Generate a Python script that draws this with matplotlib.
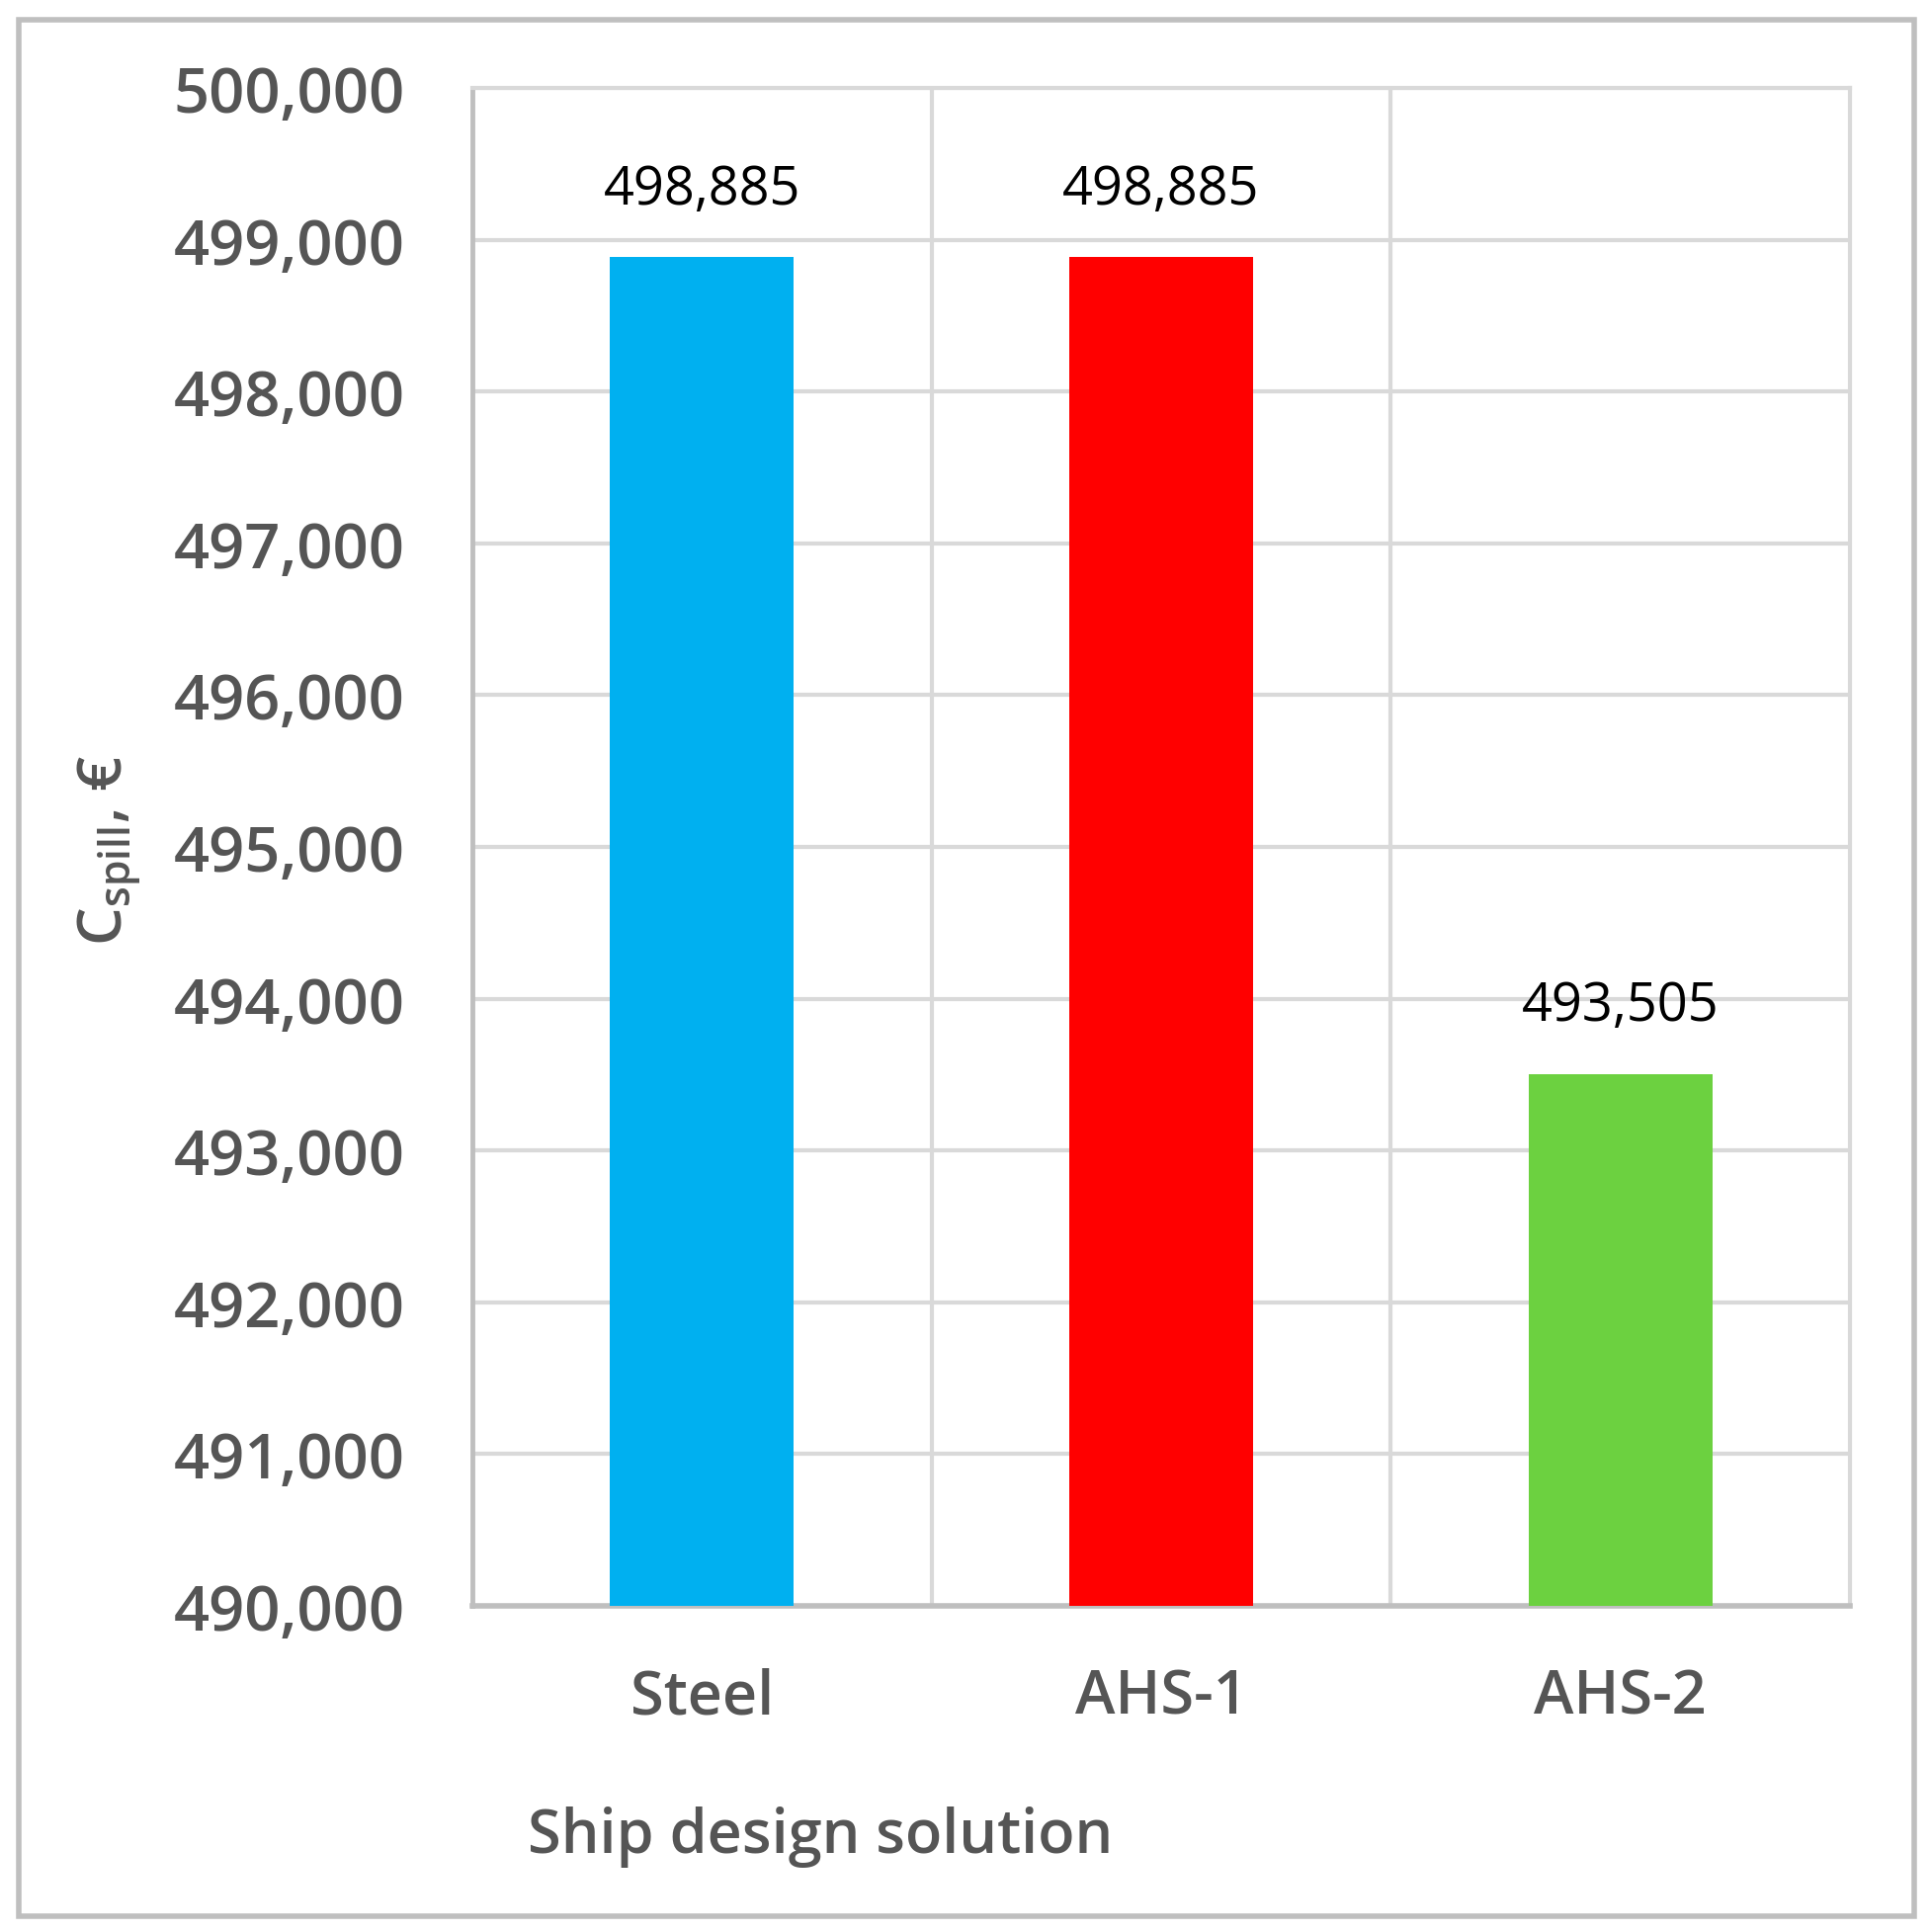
import matplotlib
matplotlib.use("Agg")
import matplotlib.pyplot as plt
from matplotlib.patches import Rectangle
from matplotlib.ticker import FuncFormatter, FixedLocator

# data
designs = ["Steel", "AHS-1", "AHS-2"]
cost_spill = [498885, 498885, 493505]
bar_colors = ["#00B0F0", "#FF0000", "#6CD140"]
y_min, y_max, y_step = 490000, 500000, 1000

plt.rcParams["font.family"] = ["Open Sans", "DejaVu Sans"]
plt.rcParams["mathtext.fontset"] = "custom"
plt.rcParams["mathtext.rm"] = "Open Sans:semibold"
plt.rcParams["mathtext.it"] = "Open Sans:semibold"

text_grey = "#555555"
grid_grey = "#d9d9d9"
label_weight = "semibold"

fig = plt.figure(figsize=(19.54, 19.56), dpi=100)
ax = fig.add_axes([0.2446, 0.1687, 0.7134, 0.7853])

x = range(len(designs))
bars = ax.bar(x, [v - y_min for v in cost_spill], bottom=y_min, width=0.4,
              color=bar_colors, zorder=3)

# value labels above the bars
for xi, v in zip(x, cost_spill):
    ax.annotate(f"{v:,}", (xi, v), xytext=(0, 30), textcoords="offset points",
                ha="center", va="bottom", fontsize=39, color="black")

ax.set_xlim(-0.5, len(designs) - 0.5)
ax.set_ylim(y_min, y_max)
ax.set_yticks(range(y_min, y_max + 1, y_step))
ax.yaxis.set_major_formatter(FuncFormatter(lambda v, _: f"{int(v):,}"))
ax.set_xticks(list(x))
ax.set_xticklabels(designs)
ax.xaxis.set_minor_locator(FixedLocator([0.5, 1.5]))

ax.tick_params(axis="both", which="both", length=0)
ax.tick_params(axis="y", pad=49, labelsize=45.5, labelcolor=text_grey)
ax.tick_params(axis="x", pad=44, labelsize=44, labelcolor=text_grey)
for lab in ax.get_yticklabels() + ax.get_xticklabels():
    lab.set_fontweight(label_weight)

ax.grid(axis="y", which="major", color=grid_grey, linewidth=3, zorder=0)
ax.grid(axis="x", which="minor", color=grid_grey, linewidth=3, zorder=0)
for name, sp in ax.spines.items():
    sp.set_color(grid_grey)
    sp.set_linewidth(3)
ax.spines["bottom"].set_color("#bfbfbf")
ax.spines["bottom"].set_linewidth(4)
ax.spines["left"].set_color("#bfbfbf")
ax.spines["left"].set_linewidth(3.5)

fig.text(111 / 1954, 1 - 861 / 1956, "C$_{\\mathrm{spill}}$, €", rotation=90,
         ha="center", va="center", fontsize=44, color=text_grey, fontweight=label_weight)
fig.text(830 / 1954, 1 - 1859 / 1956, "Ship design solution", ha="center",
         va="center", fontsize=44, color=text_grey, fontweight=label_weight)

# outer frame round the whole figure
fig.patches.append(Rectangle((19 / 1954, 1 - 1940 / 1956), (1937 - 19) / 1954,
                             (1940 - 21) / 1956, transform=fig.transFigure,
                             fill=False, edgecolor="#bfbfbf", linewidth=4))

fig.savefig("out.png", dpi=100, facecolor="white")
